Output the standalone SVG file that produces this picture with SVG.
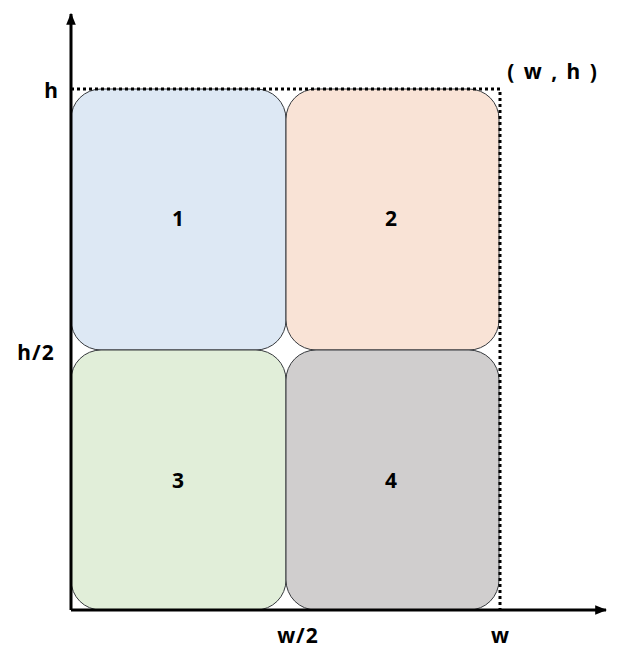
<svg xmlns="http://www.w3.org/2000/svg" width="620" height="667" viewBox="0 0 620 667">
<style>
.box{stroke:#36393d;stroke-width:1}
.lbl{font-family:"Noto Sans","Liberation Sans",sans-serif;font-weight:bold;font-size:21px;fill:#000;text-anchor:middle}
.ax{stroke:#000;stroke-width:3;fill:none}
.dot{stroke:#000;stroke-width:3;stroke-dasharray:3,3;fill:none}
</style>
<defs>
<marker id="arr" viewBox="0 0 10 10" refX="9" refY="5" markerWidth="4" markerHeight="4" orient="auto" markerUnits="strokeWidth">
<path d="M0,1 L10,5 L0,9 Z" fill="#000"/>
</marker>
</defs>
<g id="node1"><rect class="box" x="71" y="89" width="215" height="261" rx="30" ry="30" fill="#dde8f4"/><text class="lbl" x="178" y="226">1</text></g>
<g id="node2"><rect class="box" x="286" y="89" width="213" height="261" rx="30" ry="30" fill="#f9e3d6"/><text class="lbl" x="391" y="226">2</text></g>
<g id="node3"><rect class="box" x="71" y="350" width="215" height="260" rx="30" ry="30" fill="#e1eed9"/><text class="lbl" x="178" y="488">3</text></g>
<g id="node4"><rect class="box" x="286" y="350" width="213" height="260" rx="30" ry="30" fill="#d0cece"/><text class="lbl" x="391" y="488">4</text></g>
<g id="connectors">
<path class="dot" d="M71,89 L500,89 L500,610"/>
<path class="ax" d="M71,610 L71,14" marker-end="url(#arr)"/>
<path class="ax" d="M71,610 L606,610" marker-end="url(#arr)"/>
</g>
<g id="labels">
<text class="lbl" x="51" y="98">h</text>
<text class="lbl" x="36" y="360" letter-spacing="1">h/2</text>
<text class="lbl" x="298" y="643" letter-spacing="1">w/2</text>
<text class="lbl" x="500" y="643">w</text>
<text class="lbl" x="553" y="79" letter-spacing="2">( w , h )</text>
</g>
</svg>
